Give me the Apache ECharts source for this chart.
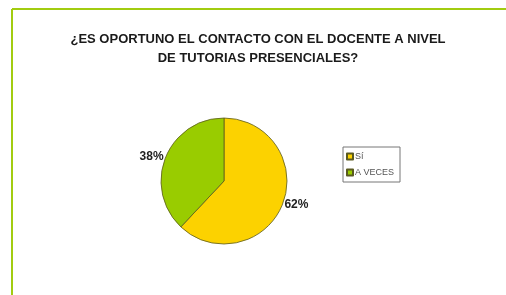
<!DOCTYPE html>
<html>
<head>
<meta charset="utf-8">
<script src="https://cdn.jsdelivr.net/npm/echarts@6/dist/echarts.min.js"></script>
<style>
  html, body { margin: 0; padding: 0; background: #fff; }
  #chart { width: 506px; height: 295px; }
</style>
</head>
<body>
<div id="chart"></div>
<script>
// data
const categories = ['Sí', 'A VECES'];
const values = [62, 38];
const colors = ['#FCD200', '#99CC00'];

const chart = echarts.init(document.getElementById('chart'));

chart.setOption({
  animation: false,
  backgroundColor: '#fff',
  textStyle: { fontFamily: 'Liberation Sans, Arial, sans-serif' },
  title: {
    text: '¿ES OPORTUNO EL CONTACTO CON EL DOCENTE A NIVEL\nDE TUTORIAS PRESENCIALES?',
    left: 253,
    top: 25,
    textAlign: 'center',
    textStyle: {
      fontSize: 13,
      fontWeight: 'bold',
      color: '#1a1a1a',
      lineHeight: 19
    }
  },
  legend: {
    orient: 'vertical',
    left: 343,
    top: 147,
    itemWidth: 6,
    itemHeight: 6,
    itemGap: 7,
    padding: [5, 6, 5, 3],
    borderColor: '#777',
    borderWidth: 1,
    icon: 'rect',
    textStyle: { fontSize: 9, color: '#555', padding: [0, 0, 0, -3] },
    data: categories
  },
  graphic: [
    {
      type: 'line',
      shape: { x1: 12, y1: 9, x2: 506, y2: 9 },
      style: { stroke: '#A2CC10', lineWidth: 2 }
    },
    {
      type: 'line',
      shape: { x1: 12, y1: 9, x2: 12, y2: 295 },
      style: { stroke: '#A2CC10', lineWidth: 2 }
    }
  ],
  series: [
    {
      type: 'pie',
      center: [224, 181],
      radius: 63,
      startAngle: 90,
      clockwise: true,
      color: colors,
      itemStyle: { borderColor: '#5a5a20', borderWidth: 0.8 },
      label: {
        show: true,
        position: 'outside',
        formatter: '{c}%',
        fontSize: 12,
        fontWeight: 'bold',
        color: '#222',
        distanceToLabelLine: 0
      },
      labelLine: { show: false, length: 2, length2: 0 },
      emphasis: { disabled: true },
      data: categories.map((name, i) => ({ name, value: values[i] }))
    }
  ]
});
</script>
</body>
</html>
